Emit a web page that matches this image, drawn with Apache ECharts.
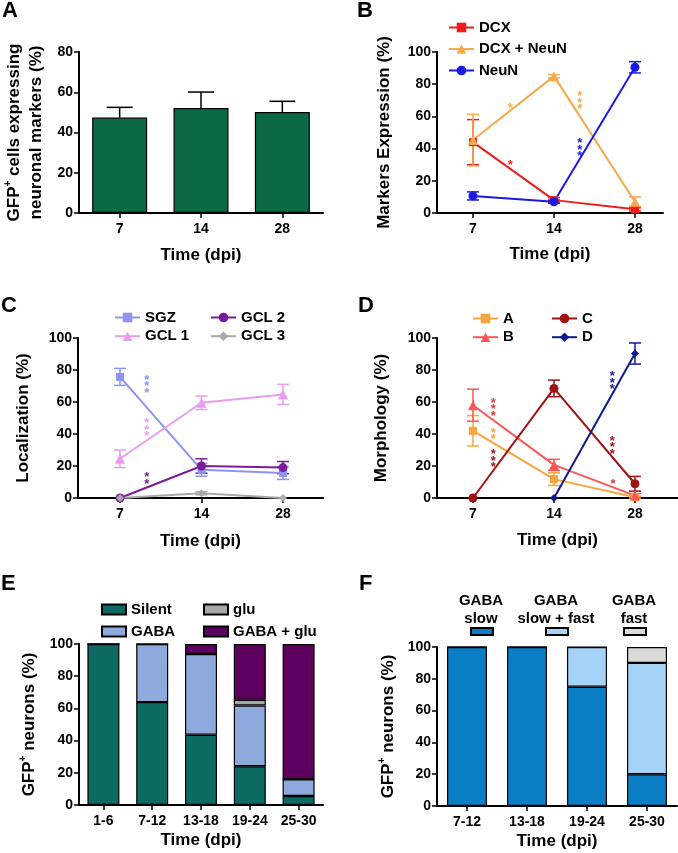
<!DOCTYPE html>
<html><head><meta charset="utf-8">
<script src="https://cdn.jsdelivr.net/npm/echarts@6/dist/echarts.min.js"></script>
<style>html,body{margin:0;padding:0;background:#fff}#c{width:678px;height:853px}</style>
</head><body><div id="c"></div>
<script>
// ---------- DATA ----------
const timeCats = ['7', '14', '28'];
// Panel A
const aMean = [47.4, 52.2, 50.2];
const aErr = [5.1, 7.9, 5.3];
// Panel B
const bDCX = [44, 8, 2.3];
const bDCXErr = [14, 1.5, 1];
const bDCXNeuN = [45.3, 85, 7];
const bDCXNeuNErr = [16, 1, 3];
const bNeuN = [10.6, 7, 90.5];
const bNeuNErr = [2.5, 1, 3.5];
// Panel C
const cSGZ = [75.7, 17.6, 15.6];
const cSGZErr = [5.3, 4, 4];
const cGCL1 = [24.5, 59.5, 64.7];
const cGCL1Err = [5.5, 4.2, 6.3];
const cGCL2 = [0, 20, 19];
const cGCL2Err = [0, 4.5, 3.8];
const cGCL3 = [0, 3, 0];
const cGCL3Err = [0, 1, 0];
// Panel D
const dA = [42, 11.8, 0.5];
const dAErr = [9.5, 4, 0.5];
const dB = [58, 20.7, 1.5];
const dBErr = [10, 3.5, 1.2];
const dC = [0, 68.5, 8.9];
const dCErr = [0, 5.2, 4.6];
const dD = [null, 0, 90.3];
const dDErr = [null, 0, 6.6];
// Panel E
const eCats = ['1-6', '7-12', '13-18', '19-24', '25-30'];
const eSilent = [100, 63.9, 43.6, 24.1, 5.6];
const eGABA = [0, 36.1, 50.2, 37.7, 10.4];
const eGlu = [0, 0, 0, 3.5, 0];
const eGABAGlu = [0, 0, 6.2, 34.7, 84];
// Panel F
const fCats = ['7-12', '13-18', '19-24', '25-30'];
const fSlow = [100, 100, 75, 20];
const fSlowFast = [0, 0, 25, 70];
const fFast = [0, 0, 0, 10];
const fLegendLabels = ['GABA\nslow', 'GABA\nslow + fast', 'GABA\nfast'];
// significance stars: [x (category units), y value, number of stars]
const bStarsDCXNeuN = [[0.46, 66.6, 1], [1.32, 70, 3]];
const bStarsDCX = [[0.46, 31.2, 1]];
const bStarsNeuN = [[1.32, 41, 3]];
const cStarsSGZ = [[0.33, 71.6, 3]];
const cStarsGCL1 = [[0.33, 44.4, 3]];
const cStarsGCL2 = [[0.33, 12.5, 2]];
const dStarsB = [[0.25, 57, 3], [1.73, 10.3, 1]];
const dStarsA = [[0.25, 40.5, 2]];
const dStarsC = [[0.25, 24.9, 3], [1.72, 33.2, 3]];
const dStarsD = [[1.72, 73.7, 3]];

// ---------- STYLE ----------
const FONT = "'Liberation Sans', Arial, Helvetica, sans-serif";
const TXT = '#000';
const col = {
  aBar: '#0b6a44',
  dcx: '#ee1c1c', dcxneun: '#f7a94b', neun: '#1a1ae6',
  sgz: '#8f93f2', gcl1: '#e89cf2', gcl2: '#7a1c9c', gcl3: '#a9a9a9',
  dA: '#f8a53e', dB: '#fd5656', dC: '#9e1313', dD: '#0f1a8e', dBstar: '#d83a3a',
  silent: '#0b6b62', gaba: '#8eaadc', glu: '#a8a8a8', gabaglu: '#5e005e',
  slow: '#0b7dc4', slowfast: '#a5d3f8', fast: '#d9d9d9'
};

const grids = [
  { left: 79, top: 52, width: 244, height: 161 },
  { left: 437, top: 52, width: 226, height: 161 },
  { left: 78, top: 338, width: 245, height: 160 },
  { left: 437, top: 338, width: 241, height: 160 },
  { left: 79, top: 644, width: 244, height: 161 },
  { left: 437, top: 647, width: 240, height: 159 }
].map(g => Object.assign({ containLabel: false, outerBoundsMode: 'none' }, g));

const axisLine = { show: true, onZero: false, lineStyle: { color: '#000', width: 2 } };
const axisTick = { show: true, length: 5, lineStyle: { color: '#000', width: 1.5 } };
const labelStyle = { color: TXT, fontFamily: FONT, fontWeight: 'bold', fontSize: 14 };
const nameStyle = {
  color: TXT, fontFamily: FONT, fontWeight: 'bold', fontSize: 17, lineHeight: 22,
  rich: {
    n: { color: TXT, fontFamily: FONT, fontWeight: 'bold', fontSize: 17, lineHeight: 22 },
    s: { color: TXT, fontFamily: FONT, fontWeight: 'bold', fontSize: 10, verticalAlign: 'top', lineHeight: 22 }
  }
};

function catX(gi, cats, nameGap) {
  return {
    type: 'category', gridIndex: gi, data: cats, boundaryGap: true,
    axisLine, axisTick: Object.assign({ alignWithLabel: true }, axisTick),
    axisLabel: Object.assign({ margin: 9 }, labelStyle),
    name: 'Time (dpi)', nameLocation: 'middle', nameGap, nameTextStyle: nameStyle
  };
}
function valX(gi, min, max, nameGap) {
  return {
    type: 'value', gridIndex: gi, min, max, splitLine: { show: false },
    axisLine, axisTick: Object.assign({ customValues: [0, 1, 2] }, axisTick),
    axisLabel: Object.assign({ margin: 9, customValues: [0, 1, 2], formatter: v => timeCats[Math.round(v)] }, labelStyle),
    name: 'Time (dpi)', nameLocation: 'middle', nameGap, nameTextStyle: nameStyle
  };
}
function valY(gi, max, name, nameGap) {
  return {
    type: 'value', gridIndex: gi, min: 0, max, interval: 20, splitLine: { show: false },
    axisLine, axisTick, axisLabel: Object.assign({ margin: 6 }, labelStyle),
    name, nameLocation: 'middle', nameGap, nameRotate: 90, nameTextStyle: nameStyle
  };
}

function errRender(capW, lowerCap) {
  return function (params, api) {
    const x = api.value(0), lo = api.value(1), hi = api.value(2);
    if (isNaN(lo) || isNaN(hi) || hi - lo <= 0.01) return null;
    const pl = api.coord([x, lo]), ph = api.coord([x, hi]);
    const st = { stroke: api.visual('color'), lineWidth: 1.5 };
    const ch = [
      { type: 'line', shape: { x1: pl[0], y1: pl[1], x2: ph[0], y2: ph[1] }, style: st },
      { type: 'line', shape: { x1: ph[0] - capW / 2, y1: ph[1], x2: ph[0] + capW / 2, y2: ph[1] }, style: st }
    ];
    if (lowerCap) ch.push({ type: 'line', shape: { x1: pl[0] - capW / 2, y1: pl[1], x2: pl[0] + capW / 2, y2: pl[1] }, style: st });
    return { type: 'group', children: ch };
  };
}
function errSeries(gi, means, errs, color, capW, lowerCap, z) {
  const data = [];
  means.forEach((m, i) => { if (m != null && errs[i] != null) data.push([i, lowerCap ? m - errs[i] : m, m + errs[i]]); });
  return { type: 'custom', xAxisIndex: gi, yAxisIndex: gi, data, itemStyle: { color }, z: z || 3,
    renderItem: errRender(capW, lowerCap), silent: true };
}
function lineSeries(name, gi, vals, errs, color, symbol, size) {
  const data = [];
  vals.forEach((v, i) => { if (v != null) data.push([i, v]); });
  return [
    errSeries(gi, vals, errs, color, 12, true, 3),
    { type: 'line', name, xAxisIndex: gi, yAxisIndex: gi, data, symbol, symbolSize: size,
      lineStyle: { color, width: 2 }, itemStyle: { color }, z: 4 }
  ];
}
function starSeries(gi, stars, color) {
  return {
    type: 'custom', xAxisIndex: gi, yAxisIndex: gi, data: stars, itemStyle: { color }, z: 5, silent: true,
    renderItem: function (params, api) {
      const p = api.coord([api.value(0), api.value(1)]);
      const n = api.value(2);
      const ch = [];
      for (let k = 0; k < n; k++) {
        ch.push({ type: 'text', x: p[0], y: p[1] + (k - (n - 1) / 2) * 6.5 + 3,
          style: { text: '*', fill: api.visual('color'), font: 'bold 13px ' + FONT, align: 'center', verticalAlign: 'middle' } });
      }
      return { type: 'group', children: ch };
    }
  };
}
function barSeries(name, gi, vals, color, width, stack) {
  return { type: 'bar', name, xAxisIndex: gi, yAxisIndex: gi, data: vals, barWidth: width, stack,
    itemStyle: { color, borderColor: '#000', borderWidth: 1.2 } };
}
function legend(left, top, names, gap, extra) {
  return Object.assign({
    orient: 'vertical', left, top, data: names, itemGap: gap, padding: 0,
    itemWidth: 25, itemHeight: 12, selectedMode: false,
    textStyle: { color: TXT, fontFamily: FONT, fontWeight: 'bold', fontSize: 15, lineHeight: 14 }
  }, extra || {});
}

const letterStyle = { color: TXT, fontFamily: FONT, fontWeight: 'bold', fontSize: 22 };
const letters = [['A', 2, 0], ['B', 357, 0], ['C', 1, 295], ['D', 358, 295], ['E', 1, 573], ['F', 359, 573]];

const series = [].concat(
  // A
  [barSeries('A-bars', 0, aMean, col.aBar, 55), errSeries(0, aMean, aErr, '#000', 26, false, 3)],
  // B
  lineSeries('DCX', 1, bDCX, bDCXErr, col.dcx, 'rect', 8),
  lineSeries('DCX + NeuN', 1, bDCXNeuN, bDCXNeuNErr, col.dcxneun, 'triangle', 10),
  lineSeries('NeuN', 1, bNeuN, bNeuNErr, col.neun, 'circle', 9),
  [starSeries(1, bStarsDCXNeuN, col.dcxneun), starSeries(1, bStarsDCX, col.dcx), starSeries(1, bStarsNeuN, col.neun)],
  // C
  lineSeries('SGZ', 2, cSGZ, cSGZErr, col.sgz, 'rect', 8),
  lineSeries('GCL 1', 2, cGCL1, cGCL1Err, col.gcl1, 'triangle', 10),
  lineSeries('GCL 2', 2, cGCL2, cGCL2Err, col.gcl2, 'circle', 9),
  lineSeries('GCL 3', 2, cGCL3, cGCL3Err, col.gcl3, 'diamond', 8),
  [starSeries(2, cStarsSGZ, col.sgz), starSeries(2, cStarsGCL1, col.gcl1), starSeries(2, cStarsGCL2, col.gcl2)],
  // D
  lineSeries('A', 3, dA, dAErr, col.dA, 'rect', 8),
  lineSeries('B', 3, dB, dBErr, col.dB, 'triangle', 10),
  lineSeries('C', 3, dC, dCErr, col.dC, 'circle', 9),
  lineSeries('D', 3, dD, dDErr, col.dD, 'diamond', 8),
  [starSeries(3, dStarsB, col.dBstar), starSeries(3, dStarsA, col.dA), starSeries(3, dStarsC, col.dC), starSeries(3, dStarsD, col.dD)],
  // E
  [barSeries('Silent', 4, eSilent, col.silent, 32, 'e'), barSeries('GABA', 4, eGABA, col.gaba, 32, 'e'),
   barSeries('glu', 4, eGlu, col.glu, 32, 'e'), barSeries('GABA + glu', 4, eGABAGlu, col.gabaglu, 32, 'e')],
  // F
  [barSeries('GABA slow', 5, fSlow, col.slow, 40, 'f'), barSeries('GABA slow + fast', 5, fSlowFast, col.slowfast, 40, 'f'),
   barSeries('GABA fast', 5, fFast, col.fast, 40, 'f')]
);

const fLegendX = [470, 545, 623];
const fLegendNames = ['GABA slow', 'GABA slow + fast', 'GABA fast'];
const eLegendText = { color: TXT, fontFamily: FONT, fontWeight: 'bold', fontSize: 15, lineHeight: 12 };

const option = {
  backgroundColor: '#fff',
  animation: false,
  title: letters.map(l => ({ text: l[0], left: l[1], top: l[2], padding: 0, textStyle: letterStyle })),
  grid: grids,
  xAxis: [
    catX(0, timeCats, 31),
    valX(1, -0.444, 2.346, 30),
    valX(2, -0.515, 2.491, 32),
    valX(3, -0.444, 2.531, 31),
    catX(4, eCats, 22),
    catX(5, fCats, 22)
  ],
  yAxis: [
    valY(0, 80, '{n|GFP}{s|+}{n| cells expressing}\n{n|neuronal markers (%)}', 32),
    valY(1, 100, 'Markers Expression (%)', 42),
    valY(2, 100, 'Localization (%)', 44),
    valY(3, 100, 'Morphology (%)', 45),
    valY(4, 100, '{n|GFP}{s|+}{n| neurons (%)}', 39),
    valY(5, 100, '{n|GFP}{s|+}{n| neurons (%)}', 38)
  ],
  legend: [
    legend(448, 20, ['DCX', 'DCX + NeuN', 'NeuN'], 6.5),
    legend(114, 310, ['SGZ', 'GCL 1'], 3.7),
    legend(210, 310, ['GCL 2', 'GCL 3'], 3.7),
    legend(472, 311, ['A', 'B'], 3.7),
    legend(551, 311, ['C', 'D'], 3.7),
    legend(101, 602, ['Silent', 'GABA'], 7, { icon: 'rect', itemWidth: 24, itemHeight: 10, textStyle: eLegendText }),
    legend(203, 602, ['glu', 'GABA + glu'], 7, { icon: 'rect', itemWidth: 24, itemHeight: 10, textStyle: eLegendText })
  ].concat(fLegendNames.map((n, i) => legend(fLegendX[i], 627, [n], 0, { icon: 'rect', itemWidth: 22, itemHeight: 7, formatter: () => '' }))),
  graphic: fLegendLabels.map((t, i) => ({
    type: 'text', x: fLegendX[i] + 11, y: 592,
    style: { text: t, font: 'bold 15px ' + FONT, fill: TXT, align: 'center', verticalAlign: 'top', lineHeight: 18 }
  })),
  series
};

const chart = echarts.init(document.getElementById('c'), null, { renderer: 'canvas' });
chart.setOption(option);
</script></body></html>
